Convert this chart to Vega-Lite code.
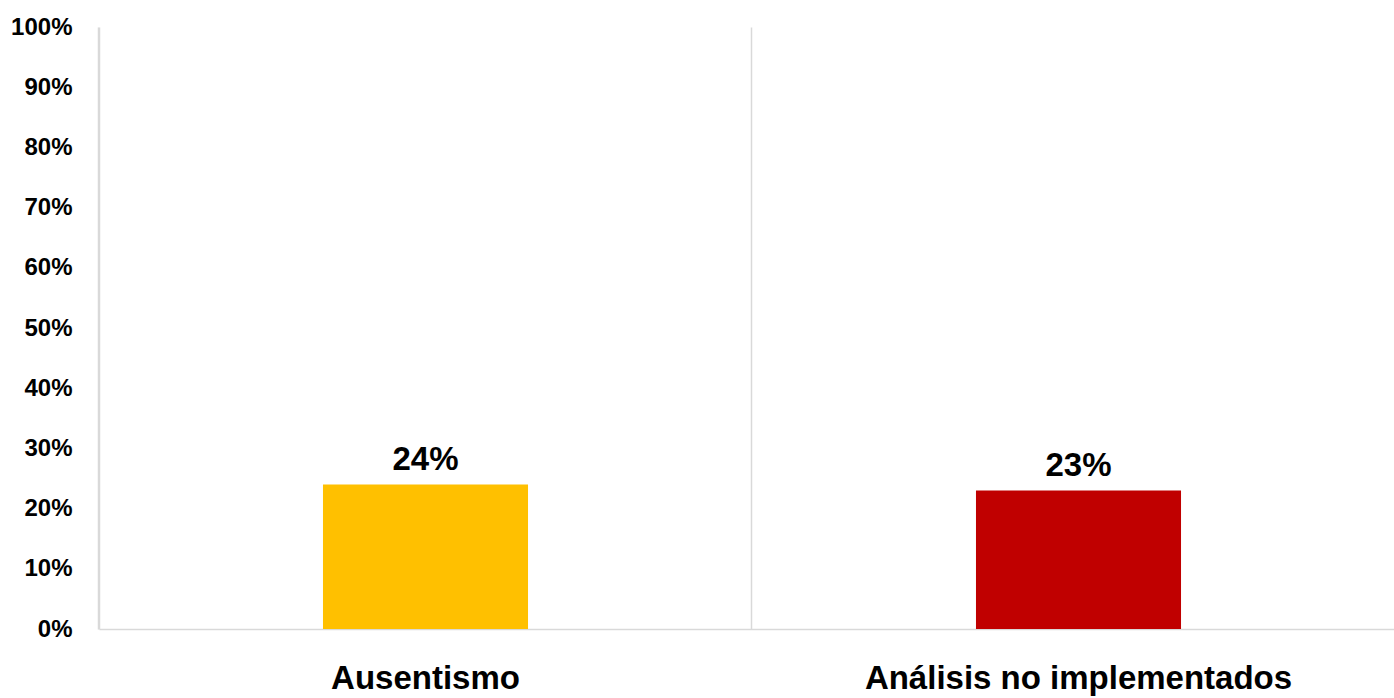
{
  "$schema": "https://vega.github.io/schema/vega-lite/v6.json",
  "width": 1306,
  "height": 602,
  "autosize": "none",
  "padding": {"left": 99, "top": 27, "right": 0, "bottom": 69},
  "background": "white",
  "config": {"view": {"stroke": null}, "font": "Liberation Sans"},
  "data": {"values": [
    {"category": "Ausentismo", "value": 0.24},
    {"category": "Análisis no implementados", "value": 0.23}
  ]},
  "encoding": {
    "x": {
      "field": "category", "type": "nominal", "sort": null,
      "scale": {"paddingInner": 0.686, "paddingOuter": 0.343},
      "axis": {
        "title": null, "labelAngle": 0, "domain": true, "domainColor": "#d9d9d9", "domainWidth": 1.5,
        "ticks": false, "grid": true, "gridColor": "#d9d9d9", "gridWidth": 1.5, "bandPosition": -1.093,
        "labelFontSize": 33, "labelFontWeight": "bold", "labelColor": "#000000", "labelPadding": 33,
        "labelLimit": 2000, "labelFont": "Liberation Sans"
      }
    },
    "y": {
      "field": "value", "type": "quantitative",
      "scale": {"domain": [0, 1], "nice": false},
      "axis": {
        "title": null, "domain": true, "domainColor": "#d9d9d9", "domainWidth": 1.5,
        "ticks": false, "grid": false, "values": [0, 0.1, 0.2, 0.3, 0.4, 0.5, 0.6, 0.7, 0.8, 0.9, 1],
        "format": ".0%", "labelFontSize": 24, "labelFontWeight": "bold", "labelColor": "#000000",
        "labelPadding": 27, "labelFont": "Liberation Sans"
      }
    }
  },
  "layer": [
    {
      "mark": {"type": "bar"},
      "encoding": {
        "color": {
          "field": "category", "type": "nominal",
          "scale": {"domain": ["Ausentismo", "Análisis no implementados"], "range": ["#FFC000", "#C00000"]},
          "legend": null
        }
      }
    },
    {
      "mark": {"type": "text", "dy": -15, "baseline": "alphabetic", "fontSize": 33, "fontWeight": "bold", "color": "#000000", "font": "Liberation Sans"},
      "encoding": {"text": {"field": "value", "type": "quantitative", "format": ".0%"}}
    }
  ]
}
